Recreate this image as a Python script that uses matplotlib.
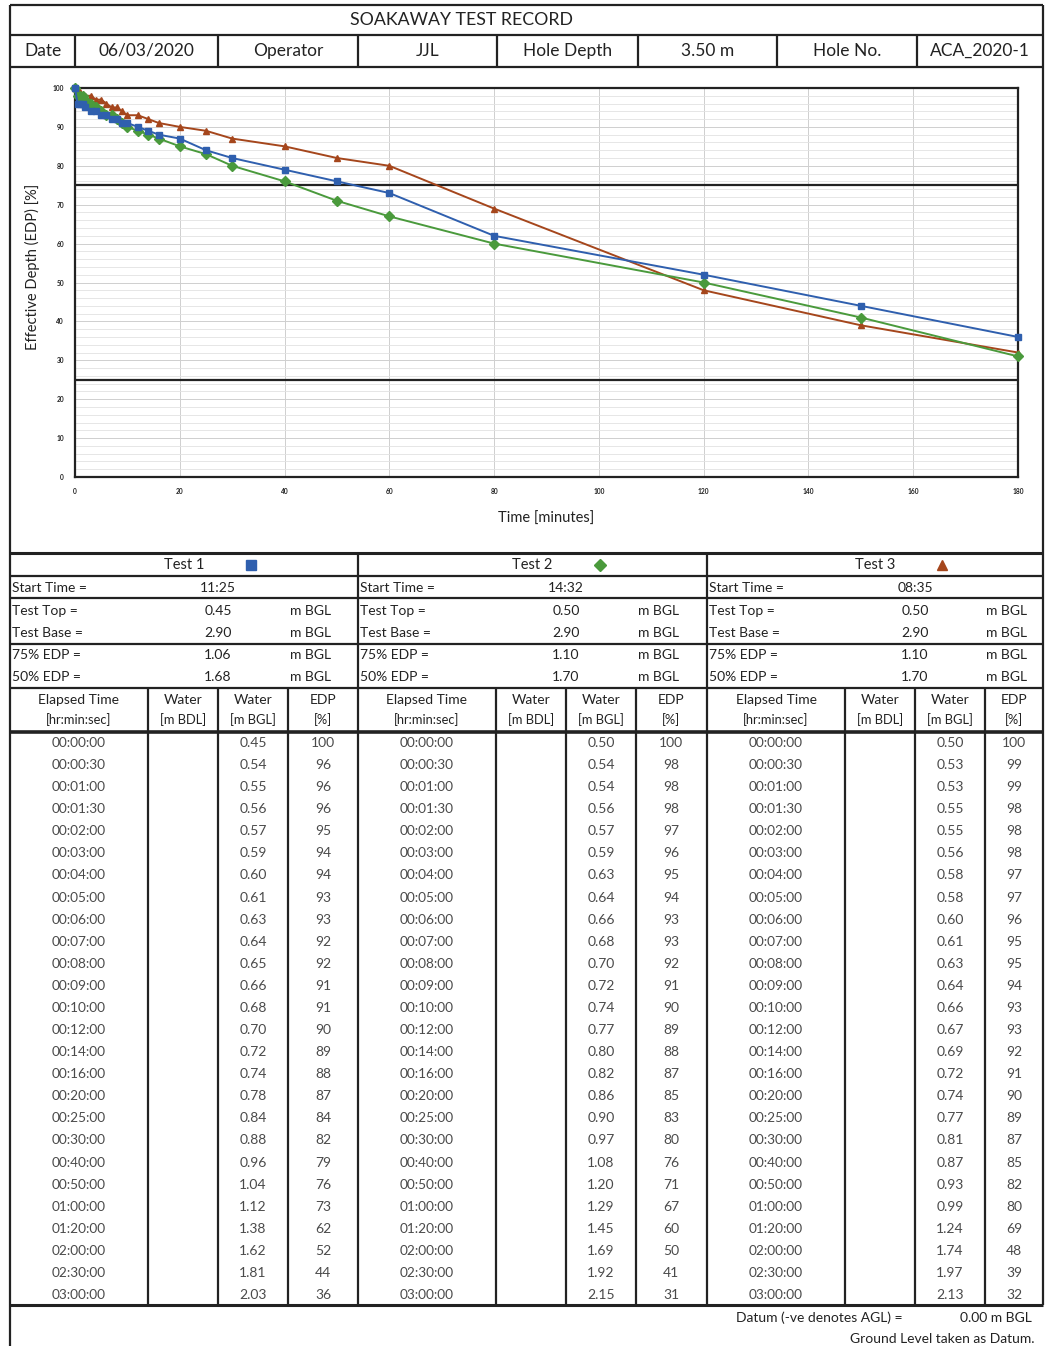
import matplotlib
matplotlib.use("Agg")
import matplotlib.pyplot as plt
from matplotlib.ticker import MultipleLocator

W, H = 1045, 1346

# header row
header_cells = ["Date", "06/03/2020", "Operator", "JJL", "Hole Depth", "3.50 m", "Hole No.", "ACA_2020-1"]

# test info
test_names = ["Test 1", "Test 2", "Test 3"]
start_times = ["11:25", "14:32", "08:35"]
test_top = ["0.45", "0.50", "0.50"]
test_base = ["2.90", "2.90", "2.90"]
edp_75 = ["1.06", "1.10", "1.10"]
edp_50 = ["1.68", "1.70", "1.70"]

# readings (same elapsed times for all 3 tests)
elapsed = ["00:00:00", "00:00:30", "00:01:00", "00:01:30", "00:02:00", "00:03:00",
           "00:04:00", "00:05:00", "00:06:00", "00:07:00", "00:08:00", "00:09:00",
           "00:10:00", "00:12:00", "00:14:00", "00:16:00", "00:20:00", "00:25:00",
           "00:30:00", "00:40:00", "00:50:00", "01:00:00", "01:20:00", "02:00:00",
           "02:30:00", "03:00:00"]
water_1 = [0.45, 0.54, 0.55, 0.56, 0.57, 0.59, 0.60, 0.61, 0.63, 0.64, 0.65, 0.66, 0.68,
           0.70, 0.72, 0.74, 0.78, 0.84, 0.88, 0.96, 1.04, 1.12, 1.38, 1.62, 1.81, 2.03]
edp_1 = [100, 96, 96, 96, 95, 94, 94, 93, 93, 92, 92, 91, 91,
         90, 89, 88, 87, 84, 82, 79, 76, 73, 62, 52, 44, 36]
water_2 = [0.50, 0.54, 0.54, 0.56, 0.57, 0.59, 0.63, 0.64, 0.66, 0.68, 0.70, 0.72, 0.74,
           0.77, 0.80, 0.82, 0.86, 0.90, 0.97, 1.08, 1.20, 1.29, 1.45, 1.69, 1.92, 2.15]
edp_2 = [100, 98, 98, 98, 97, 96, 95, 94, 93, 93, 92, 91, 90,
         89, 88, 87, 85, 83, 80, 76, 71, 67, 60, 50, 41, 31]
water_3 = [0.50, 0.53, 0.53, 0.55, 0.55, 0.56, 0.58, 0.58, 0.60, 0.61, 0.63, 0.64, 0.66,
           0.67, 0.69, 0.72, 0.74, 0.77, 0.81, 0.87, 0.93, 0.99, 1.24, 1.74, 1.97, 2.13]
edp_3 = [100, 99, 99, 98, 98, 98, 97, 97, 96, 95, 95, 94, 93,
         93, 92, 91, 90, 89, 87, 85, 82, 80, 69, 48, 39, 32]

waters = [water_1, water_2, water_3]
edps = [edp_1, edp_2, edp_3]
colors = ["#2f5fae", "#4a9a3c", "#a5461c"]
markers = ["s", "D", "^"]


def to_minutes(s):
    h, m, sec = [int(v) for v in s.split(":")]
    return h * 60 + m + sec / 60.0


minutes = [to_minutes(t) for t in elapsed]

plt.rcParams['font.family'] = ['Lato', 'DejaVu Sans']
fig = plt.figure(figsize=(W / 100, H / 100), dpi=100)
bg = fig.add_axes([0, 0, 1, 1])
bg.set_xlim(0, W)
bg.set_ylim(H, 0)
bg.axis("off")

LC = "#222222"
TC = "#222222"
DC = "#4a4a4a"


def hl(y, x0=10, x1=1043, lw=1.6):
    bg.plot([x0, x1], [y, y], color=LC, lw=lw, solid_capstyle="butt")


def vl(x, y0, y1, lw=1.6):
    bg.plot([x, x], [y0, y1], color=LC, lw=lw, solid_capstyle="butt")


# outer frame + header
hl(5)
hl(35)
hl(67)
vl(10, 5, H)
vl(1043, 5, 1305)
bg.text(462, 20, "SOAKAWAY TEST RECORD", ha="center", va="center", fontsize=12.8, color=TC)
hx = [10, 75, 218, 358, 497, 638, 777, 917, 1043]
for i, lab in enumerate(header_cells):
    if 0 < i:
        vl(hx[i], 35, 67)
    bg.text((hx[i] + hx[i + 1]) / 2, 51, lab, ha="center", va="center", fontsize=12.5, color=TC)

# chart
ax = fig.add_axes([75 / W, 1 - 477 / H, (1018 - 75) / W, (477 - 88) / H])
for k in range(3):
    ax.plot(minutes, edps[k], color=colors[k], marker=markers[k], markersize=4.8,
            lw=1.4, clip_on=False, zorder=3 + (2 - k))
ax.axhline(75, color=LC, lw=1.6, zorder=2)
ax.axhline(25, color=LC, lw=1.6, zorder=2)
ax.set_xlim(0, 180)
ax.set_ylim(0, 100)
ax.xaxis.set_major_locator(MultipleLocator(20))
ax.yaxis.set_major_locator(MultipleLocator(10))
ax.yaxis.set_minor_locator(MultipleLocator(2))
ax.grid(which="major", color="#cfcfcf", lw=0.7)
ax.grid(which="minor", axis="y", color="#e2e2e2", lw=0.6)
ax.tick_params(which="both", length=0, labelsize=4.8, pad=8, labelcolor="#222222")
for lab in ax.get_xticklabels() + ax.get_yticklabels():
    lab.set_fontweight("bold")
for s in ax.spines.values():
    s.set_color(LC)
    s.set_linewidth(1.6)
ax.set_xlabel("Time [minutes]", fontsize=10.5, color=TC, labelpad=12)
ax.set_ylabel("Effective Depth (EDP) [%]", fontsize=10.5, color=TC)
ax.yaxis.set_label_coords(-35 / 943, 0.54)

# test table
hl(553, lw=2.2)
hl(576)
hl(598)
hl(644)
hl(688)
hl(732, lw=2.6)
hl(1305, lw=2.2)
sec_x = [10, 358, 707, 1043]
for x in sec_x[1:3]:
    vl(x, 553, 1305)

info_labels = ["Start Time =", "Test Top =", "Test Base =", "75% EDP =", "50% EDP ="]
info_y = [588, 611, 633, 655, 677]
col_offsets = [0, 138, 208, 278, 348]
col_heads = [("Elapsed Time", "[hr:min:sec]"), ("Water", "[m BDL]"), ("Water", "[m BGL]"), ("EDP", "[%]")]
row_y0, row_dy = 743, 22.08

for k in range(3):
    x0 = sec_x[k]
    cx = [x0 + o for o in col_offsets]
    if k == 2:
        cx[4] = 1043
    mid = (sec_x[k] + sec_x[k + 1]) / 2
    bg.text(mid, 565, test_names[k], ha="center", va="center", fontsize=10.5, color=TC)
    bg.plot([mid + 67], [565], marker=markers[k], color=colors[k], markersize=7 if k != 1 else 6)
    vals = [start_times[k], test_top[k], test_base[k], edp_75[k], edp_50[k]]
    for j in range(5):
        bg.text(x0 + 2, info_y[j], info_labels[j], ha="left", va="center", fontsize=10, color=TC)
        bg.text(cx[2], info_y[j], vals[j], ha="center", va="center", fontsize=10, color=TC)
        if j > 0:
            bg.text(cx[3] + 22, info_y[j], "m BGL", ha="center", va="center", fontsize=10, color=TC)
    for c in cx[1:4]:
        vl(c, 688, 1305)
    for c in range(4):
        cc = (cx[c] + cx[c + 1]) / 2
        bg.text(cc, 700, col_heads[c][0], ha="center", va="center", fontsize=10, color=TC)
        bg.text(cc, 720, col_heads[c][1], ha="center", va="center", fontsize=9.3, color=TC)
    for r in range(len(elapsed)):
        y = row_y0 + r * row_dy
        bg.text((cx[0] + cx[1]) / 2, y, elapsed[r], ha="center", va="center", fontsize=9.8, color=DC)
        bg.text((cx[2] + cx[3]) / 2, y, "%.2f" % waters[k][r], ha="center", va="center", fontsize=10, color=DC)
        bg.text((cx[3] + cx[4]) / 2, y, str(edps[k][r]), ha="center", va="center", fontsize=10, color=DC)

# footer
bg.text(903, 1318, "Datum (-ve denotes AGL) =", ha="right", va="center", fontsize=10, color=TC)
bg.text(1032, 1318, "0.00 m BGL", ha="right", va="center", fontsize=10, color=TC)
bg.text(1035, 1339, "Ground Level taken as Datum.", ha="right", va="center", fontsize=10, color=TC)

fig.savefig("out.png", dpi=100)
